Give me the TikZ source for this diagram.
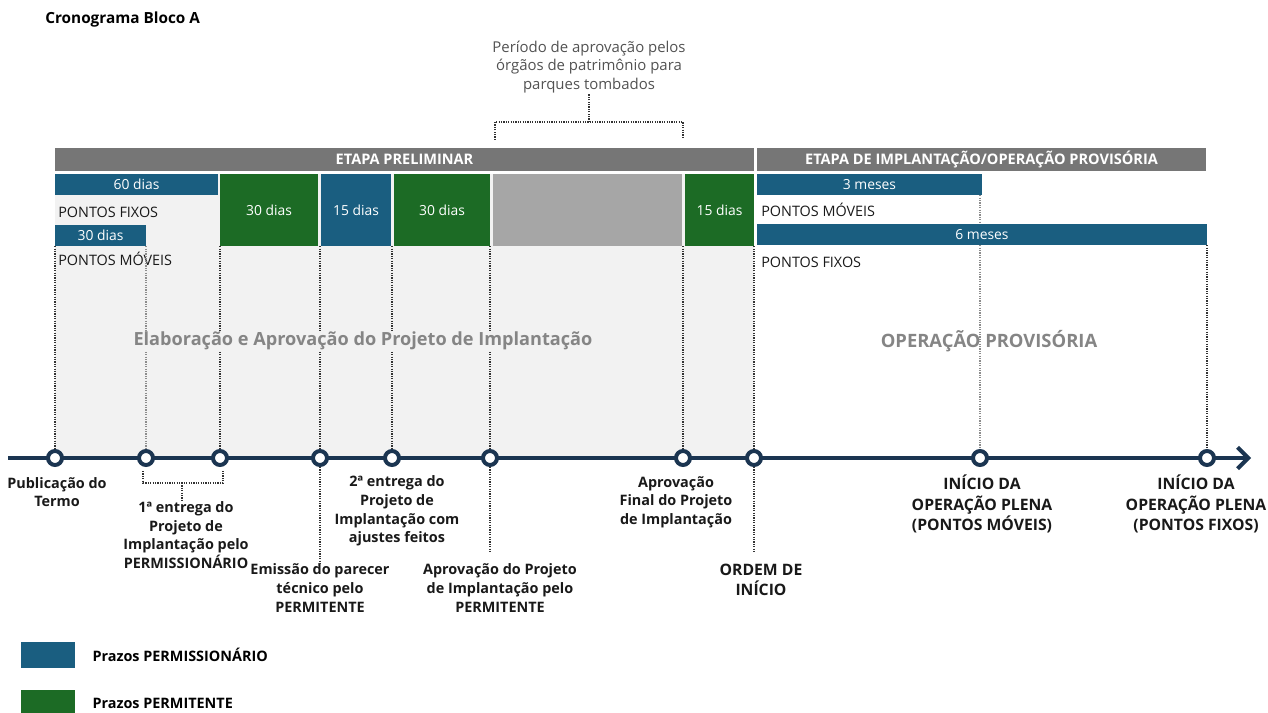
\documentclass[tikz,border=0pt]{standalone}
\usepackage{fontspec}
\setmainfont{Open Sans}
\usetikzlibrary{positioning,arrows.meta}

\definecolor{azul}{HTML}{1A5E80}
\definecolor{verde}{HTML}{1C6B25}
\definecolor{cinzaescuro}{HTML}{767676}
\definecolor{cinzamedio}{HTML}{A6A6A6}
\definecolor{cinzaclaro}{HTML}{F2F2F2}
\definecolor{marinho}{HTML}{1B3551}
\definecolor{textocinza}{HTML}{858585}

\tikzstyle{etapa} = [fill=cinzaescuro, inner sep=0pt, text=white,
    font=\bfseries\fontsize{10.9}{12}\selectfont]
\tikzstyle{prazoazul} = [fill=azul, inner sep=0pt, text=white,
    font=\fontsize{10.4}{12}\selectfont]
\tikzstyle{prazoverde} = [prazoazul, fill=verde]
\tikzstyle{marco} = [circle, draw=marinho, line width=3pt, fill=white,
    minimum size=10.5pt, inner sep=0pt]
\tikzstyle{pontilhado} = [line width=1.2pt, dash pattern=on 0.9pt off 0.9pt, black!80]
\tikzstyle{rotulo} = [align=center, inner sep=0pt, text=black!90,
    font=\bfseries\fontsize{10.8}{14}\selectfont]
\tikzstyle{grande} = [align=center, inner sep=0pt, text=black!90,
    font=\bfseries\fontsize{11.8}{15.4}\selectfont]
\tikzstyle{pontos} = [anchor=west, inner sep=0pt, text=black!90,
    font=\fontsize{10.8}{12}\selectfont]

% barra de prazo: estilo, nome, x1, y1, x2, y2, texto
\newcommand{\prazo}[7]{
    \node[#1, minimum width={(#5-#3)*0.75pt}, minimum height={(#6-#4)*0.75pt}]
        (#2) at ({(#3+#5)/2},{(#4+#6)/2}) {#7};
}

\begin{document}
\begin{tikzpicture}[x=0.75pt,y=-0.75pt]
\useasboundingbox (0,0) rectangle (1268,713);

\node[anchor=west, inner sep=0pt, font=\bfseries\fontsize{11.5}{12}\selectfont] (titulo) at (45,20) {Cronograma Bloco A};

% fundo da etapa preliminar
\fill[cinzaclaro] (55,174) rectangle (754,458);

\prazo{etapa}{preliminar}{55}{148}{754}{171}{ETAPA PRELIMINAR}
\prazo{etapa}{implantacao}{757}{148}{1206}{171}{ETAPA DE IMPLANTAÇÃO/OPERAÇÃO PROVISÓRIA}

% prazos
\prazo{prazoazul}{a60}{55}{174}{218}{195}{60 dias}
\node[pontos] (fixos1) at (58,212) {PONTOS FIXOS};
\prazo{prazoazul}{a30}{55}{225}{146}{246}{30 dias}
\node[pontos] (moveis1) at (58,259) {PONTOS MÓVEIS};
\prazo{prazoverde}{v30a}{220}{174}{318}{246}{30 dias}
\prazo{prazoazul}{a15}{321}{174}{391}{246}{15 dias}
\prazo{prazoverde}{v30b}{394}{174}{490}{246}{30 dias}
\prazo{prazoazul, fill=cinzamedio}{cinza}{493}{174}{682}{246}{}
\prazo{prazoverde}{v15}{685}{174}{754}{246}{15 dias}
\prazo{prazoazul}{a3}{757}{174}{982}{195}{3 meses}
\node[pontos] (moveis2) at (761,210) {PONTOS MÓVEIS};
\prazo{prazoazul}{a6}{757}{224}{1207}{245}{6 meses}
\node[pontos] (fixos2) at (761,262) {PONTOS FIXOS};

% periodo dos orgaos de patrimonio
\node[align=center, inner sep=0pt, text=black!68, font=\fontsize{11.2}{14}\selectfont]
    (periodo) at (589,67) {Período de aprovação pelos\\órgãos de patrimônio para\\parques tombados};
\coordinate (chave) at (589,122);
\coordinate (chaveA) at (495,140);
\coordinate (chaveB) at (683,138);
\draw[pontilhado] (chaveA) |- (chaveB |- chave) -- (chaveB);
\draw[pontilhado] (chave) -- (periodo);

% linha do tempo
\coordinate (inicio) at (8,458);
\coordinate (fim) at (1251,458);
\draw[marinho, line width=3pt, -{Straight Barb[length=8pt,width=16pt]}] (inicio) -- (fim);
\foreach \x [count=\i] in {55,146,220,320,392,490,683,754,980,1207}
    \node[marco] (m\i) at (\x,458) {};

\draw[pontilhado] (m1 |- a30.south) -- (m1);
\draw[pontilhado, black!45] (m2 |- a30.south) -- (m2);
\draw[pontilhado] (m3 |- v30a.south) -- (m3);
\draw[pontilhado] (m4 |- a15.south) -- (m4);
\draw[pontilhado] (m5 |- v30b.south) -- (m5);
\draw[pontilhado] (m6 |- cinza.south) -- (m6);
\draw[pontilhado] (m7 |- v15.south) -- (m7);
\draw[pontilhado] (m8 |- v15.south) -- (m8);
\draw[pontilhado, black!45] (m9 |- a3.south) -- (m9 |- a6.north);
\draw[pontilhado, black!45] (m9 |- a6.south) -- (m9);
\draw[pontilhado] (m10 |- a6.south) -- (m10);

\node[fill=cinzaclaro, inner sep=1pt, text=textocinza, font=\bfseries\fontsize{13.6}{16}\selectfont]
    (elaboracao) at (363,341) {Elaboração e Aprovação do Projeto de Implantação};
\node[inner sep=1pt, text=textocinza, font=\bfseries\fontsize{13.8}{16}\selectfont]
    (operacao) at (989,341) {OPERAÇÃO PROVISÓRIA};

% marcos
\node[rotulo] (publicacao) at (57,492) {Publicação do\\Termo};
\node[rotulo] (entrega1) at (186,535) {1ª entrega do\\Projeto de\\Implantação pelo\\PERMISSIONÁRIO};
\node[rotulo] (emissao) at (320,588) {Emissão do parecer\\técnico pelo\\PERMITENTE};
\node[rotulo] (entrega2) at (397,511) {2ª entrega do\\Projeto de\\Implantação com\\ajustes feitos};
\node[rotulo] (aprovacao) at (500,588) {Aprovação do Projeto\\de Implantação pelo\\PERMITENTE};
\node[rotulo] (final) at (676,502) {Aprovação\\Final do Projeto\\de Implantação};
\node[grande] (ordem) at (761,580) {ORDEM DE\\INÍCIO};
\node[grande] (plenamoveis) at (982,504) {INÍCIO DA\\OPERAÇÃO PLENA\\(PONTOS MÓVEIS)};
\node[grande] (plenafixos) at (1196,504) {INÍCIO DA\\OPERAÇÃO PLENA\\(PONTOS FIXOS)};

\coordinate (chaveC) at (143,471);
\coordinate (chaveD) at (223,471);
\coordinate (chave2) at (182,483);
\draw[pontilhado] (chaveC) |- (chaveD |- chave2) -- (chaveD);
\draw[pontilhado] (chave2) -- (chave2 |- entrega1.north);

\draw[pontilhado] (m4) -- (emissao);
\draw[pontilhado, shorten >=9pt] (m6) -- (m6 |- aprovacao.north);
\draw[pontilhado, shorten >=9pt] (m8) -- (m8 |- ordem.north);

% legenda
\prazo{prazoazul}{legazul}{21}{642}{75}{668}{}
\node[right=12.75pt of legazul, inner sep=0pt, font=\bfseries\fontsize{10.8}{12}\selectfont] (txtazul) {Prazos PERMISSIONÁRIO};
\prazo{prazoverde}{legverde}{21}{690}{75}{716}{}
\node[right=12.75pt of legverde, inner sep=0pt, font=\bfseries\fontsize{10.8}{12}\selectfont] (txtverde) {Prazos PERMITENTE};
\end{tikzpicture}
\end{document}
